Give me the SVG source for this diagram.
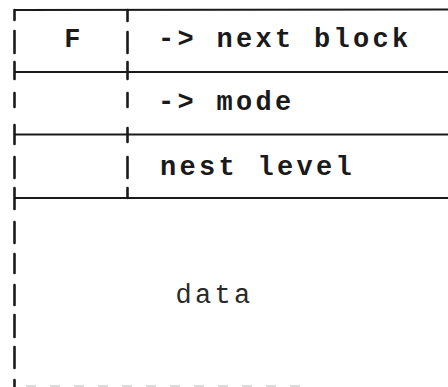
<svg xmlns="http://www.w3.org/2000/svg" width="448" height="387" viewBox="0 0 448 387">
<style>
.rule{stroke:#1a1a1a;stroke-width:2;fill:none}
.bar{stroke:#1a1a1a;stroke-width:2.6;fill:none;stroke-linecap:round}
.faint{stroke:#dadada;stroke-width:2;fill:none;stroke-dasharray:10 14}
.t{font-family:"Liberation Mono","Courier New",monospace;font-size:27px;letter-spacing:3.3px;fill:#1a1a1a;font-weight:bold}
.d{font-family:"Liberation Mono","Courier New",monospace;font-size:27px;letter-spacing:3.3px;fill:#2a2a2a}
</style>
<rect width="448" height="387" fill="#ffffff"/>
<g id="connectors">
<line class="rule" x1="14" y1="10" x2="448" y2="9.5"/>
<line class="rule" x1="14" y1="72" x2="448" y2="72"/>
<line class="rule" x1="14" y1="134.5" x2="448" y2="134.5"/>
<line class="rule" x1="14" y1="198" x2="448" y2="198"/>
<line class="faint" x1="26" y1="386" x2="310" y2="386"/>
</g>
<g id="left-edge">
<line class="bar" x1="14.5" y1="10" x2="14.5" y2="20"/>
<line class="bar" x1="14.5" y1="31" x2="14.5" y2="53"/>
<line class="bar" x1="14.5" y1="62" x2="14.5" y2="79"/>
<line class="bar" x1="14.5" y1="93" x2="14.5" y2="107"/>
<line class="bar" x1="14.5" y1="125" x2="14.5" y2="144"/>
<line class="bar" x1="14.5" y1="157" x2="14.5" y2="178"/>
<line class="bar" x1="14.5" y1="188" x2="14.5" y2="209"/>
<line class="bar" x1="14.5" y1="222" x2="14.5" y2="243"/>
<line class="bar" x1="14.5" y1="254" x2="14.5" y2="273"/>
<line class="bar" x1="14.5" y1="285" x2="14.5" y2="305"/>
<line class="bar" x1="14.5" y1="315" x2="14.5" y2="337"/>
<line class="bar" x1="14.5" y1="347" x2="14.5" y2="368"/>
<line class="bar" x1="14.5" y1="380" x2="14.5" y2="387"/>
</g>
<g id="divider">
<line class="bar" x1="127.5" y1="10" x2="127.5" y2="21"/>
<line class="bar" x1="127.5" y1="32" x2="127.5" y2="53"/>
<line class="bar" x1="127.5" y1="62" x2="127.5" y2="79"/>
<line class="bar" x1="127.5" y1="93" x2="127.5" y2="107"/>
<line class="bar" x1="127.5" y1="128" x2="127.5" y2="142"/>
<line class="bar" x1="127.5" y1="157" x2="127.5" y2="178"/>
<line class="bar" x1="127.5" y1="188" x2="127.5" y2="198"/>
</g>
<g id="flag"><text class="t" x="74" y="47" text-anchor="middle" letter-spacing="0">F</text></g>
<g id="next-block"><text class="t" x="158" y="47">-&gt; next block</text></g>
<g id="mode"><text class="t" x="158" y="110">-&gt; mode</text></g>
<g id="nest-level"><text class="t" x="160" y="175">nest level</text></g>
<g id="data"><text class="d" x="175.5" y="303">data</text></g>
</svg>
